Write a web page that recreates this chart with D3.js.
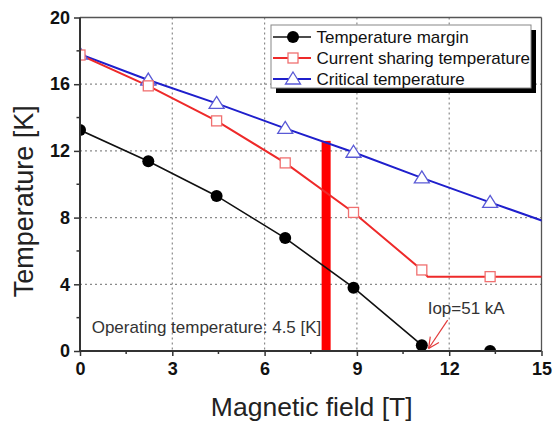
<!DOCTYPE html>
<html>
<head>
<meta charset="utf-8">
<script src="https://cdn.jsdelivr.net/npm/d3@7"></script>
<style>
  body { margin: 0; background: #fff; }
  svg { display: block; font-family: "Liberation Sans", Arial, sans-serif; }
</style>
</head>
<body>
<div class="graph"></div>
<script>
// data
var field    = [0, 2.22, 4.44, 6.67, 8.89, 11.11, 13.33, 15.56];
var margin_T = [13.25, 11.38, 9.3, 6.77, 3.8, 0.35, 0, 0];
var sharing  = [17.75, 15.9, 13.8, 11.28, 8.31, 4.86, 4.46, 4.46];
var critical = [17.8, 16.25, 14.85, 13.35, 11.92, 10.38, 8.91, 7.47];
var sharingKnee = [11.3, 4.46];   // where Tcs meets operating temperature
var opField = 8.0, opBarTop = 12.6;
var xTicks = [0, 3, 6, 9, 12, 15];
var yTicks = [0, 4, 8, 12, 16, 20];
var seriesNames = ["Temperature margin", "Current sharing temperature", "Critical temperature"];

var W = 554, H = 425;
var margin = { top: 17.5, right: 12.5, bottom: 74, left: 80 },
  width = W - margin.left - margin.right,
  height = H - margin.top - margin.bottom;

var x = d3.scaleLinear().domain([0, 15]).range([0, width]);
var y = d3.scaleLinear().domain([0, 20]).range([height, 0]);

var svg = d3.select(".graph").append("svg")
  .attr("width", W).attr("height", H)
  .append("g")
  .attr("transform", "translate(" + margin.left + "," + margin.top + ")");

svg.append("defs").append("clipPath").attr("id", "clip")
  .append("rect").attr("width", width).attr("height", height);

// dotted grid
svg.append("g").selectAll("line").data(xTicks.slice(1, -1)).enter().append("line")
  .attr("x1", x).attr("x2", x).attr("y1", 0).attr("y2", height)
  .attr("stroke", "#8a8a8a").attr("stroke-width", 1.2).attr("stroke-dasharray", "2,3");
svg.append("g").selectAll("line").data(yTicks.slice(1, -1)).enter().append("line")
  .attr("y1", y).attr("y2", y).attr("x1", 0).attr("x2", width)
  .attr("stroke", "#8a8a8a").attr("stroke-width", 1.2).attr("stroke-dasharray", "2,3");

// frame top / right
svg.append("line").attr("x1", 0).attr("x2", width).attr("y1", 0).attr("y2", 0)
  .attr("stroke", "#555").attr("stroke-width", 1.3);
svg.append("line").attr("x1", width).attr("x2", width).attr("y1", 0).attr("y2", height)
  .attr("stroke", "#555").attr("stroke-width", 1.3);

var plot = svg.append("g").attr("clip-path", "url(#clip)");

// operating field bar
plot.append("rect")
  .attr("x", x(opField) - 4.5).attr("width", 9)
  .attr("y", y(opBarTop)).attr("height", y(0) - y(opBarTop))
  .attr("fill", "#ff0000");

var line = d3.line().x(function(d) { return x(d[0]); }).y(function(d) { return y(d[1]); });

var critPts = field.map(function(f, i) { return [f, critical[i]]; });
var sharePts = field.map(function(f, i) { return [f, sharing[i]]; });
var sharePath = sharePts.slice(0, 6).concat([sharingKnee]).concat(sharePts.slice(6));
var marginPts = field.map(function(f, i) { return [f, margin_T[i]]; });

plot.append("path").datum(critPts).attr("d", line)
  .attr("fill", "none").attr("stroke", "#1f1fcc").attr("stroke-width", 2);
plot.append("path").datum(sharePath).attr("d", line)
  .attr("fill", "none").attr("stroke", "#ee2a2a").attr("stroke-width", 2);
plot.append("path").datum(marginPts.slice(0, 6)).attr("d", line)
  .attr("fill", "none").attr("stroke", "#111").attr("stroke-width", 1.6);

function triangle(g, cx, cy) {
  g.append("path").attr("d", "M0,-7L7.5,5L-7.5,5Z")
    .attr("transform", "translate(" + cx + "," + cy + ")")
    .attr("fill", "#fff").attr("stroke", "#5a5ad6").attr("stroke-width", 1.3);
}
function square(g, cx, cy) {
  g.append("rect").attr("x", cx - 5).attr("y", cy - 5).attr("width", 10).attr("height", 10)
    .attr("fill", "#fff").attr("stroke", "#f07070").attr("stroke-width", 1.3);
}
function circle(g, cx, cy) {
  g.append("circle").attr("cx", cx).attr("cy", cy).attr("r", 6).attr("fill", "#000");
}

critPts.forEach(function(d) { triangle(plot, x(d[0]), y(d[1])); });
sharePts.forEach(function(d) { square(plot, x(d[0]), y(d[1])); });
marginPts.slice(0, 7).forEach(function(d) { circle(plot, x(d[0]), y(d[1])); });

// axes
var xAxis = d3.axisBottom(x).tickValues(xTicks).tickSize(5).tickPadding(6).tickFormat(d3.format("d"));
var yAxis = d3.axisLeft(y).tickValues(yTicks).tickSize(6).tickPadding(4).tickFormat(d3.format("d"));

var gx = svg.append("g").attr("transform", "translate(0," + height + ")").call(xAxis);
var gy = svg.append("g").call(yAxis);
[gx, gy].forEach(function(g) {
  g.select(".domain").attr("stroke", "#333").attr("stroke-width", 2);
  g.selectAll(".tick line").attr("stroke", "#333").attr("stroke-width", 1.5);
  g.selectAll("text").attr("font-family", "Liberation Sans, Arial, sans-serif")
    .attr("font-size", 18).attr("font-weight", "bold").attr("fill", "#111");
});
gy.select(".domain").attr("d", "M0," + height + "V0");
gx.select(".domain").attr("d", "M0,0H" + width);

// minor ticks
svg.append("g").selectAll("line").data(d3.range(1.5, 15, 3)).enter().append("line")
  .attr("x1", x).attr("x2", x).attr("y1", height).attr("y2", height + 3)
  .attr("stroke", "#333").attr("stroke-width", 1.5);
svg.append("g").selectAll("line").data(d3.range(2, 20, 4)).enter().append("line")
  .attr("y1", y).attr("y2", y).attr("x1", 0).attr("x2", -3.5)
  .attr("stroke", "#333").attr("stroke-width", 1.5);

// axis titles
svg.append("text").attr("x", width / 2 + 1).attr("y", height + 65)
  .attr("text-anchor", "middle").attr("font-size", 26.5).attr("fill", "#222")
  .text("Magnetic field [T]");
svg.append("text").attr("transform", "translate(" + (33 - margin.left) + "," + (height / 2 + 17) + ") rotate(-90)")
  .attr("text-anchor", "middle").attr("font-size", 27).attr("fill", "#222")
  .text("Temperature [K]");

// annotations
svg.append("text").attr("x", x(0.38)).attr("y", y(1.1))
  .attr("font-size", 17).attr("fill", "#333")
  .text("Operating temperature: 4.5 [K]");
svg.append("text").attr("x", x(11.3)).attr("y", y(2.2))
  .attr("font-size", 17).attr("fill", "#333")
  .text("Iop=51 kA");

var a0 = [x(11.95), y(1.85)], a1 = [x(11.33), y(0.15)];
svg.append("line").attr("x1", a0[0]).attr("y1", a0[1]).attr("x2", a1[0]).attr("y2", a1[1])
  .attr("stroke", "#e23a3a").attr("stroke-width", 1.2);
var ang = Math.atan2(a1[1] - a0[1], a1[0] - a0[0]);
[-0.45, 0.45].forEach(function(da) {
  svg.append("line").attr("x1", a1[0]).attr("y1", a1[1])
    .attr("x2", a1[0] - 12 * Math.cos(ang + da)).attr("y2", a1[1] - 12 * Math.sin(ang + da))
    .attr("stroke", "#e23a3a").attr("stroke-width", 1.2);
});

// legend
var lg = svg.append("g").attr("transform", "translate(" + (271 - margin.left) + "," + (25 - margin.top) + ")");
lg.append("rect").attr("x", 5).attr("y", 5).attr("width", 260).attr("height", 63).attr("fill", "#000");
lg.append("rect").attr("x", 0).attr("y", 0).attr("width", 260).attr("height", 63)
  .attr("fill", "#fff").attr("stroke", "#888").attr("stroke-width", 1);
var colors = ["#111", "#ee2a2a", "#1f1fcc"];
seriesNames.forEach(function(name, i) {
  var cy = 12 + i * 21;
  lg.append("line").attr("x1", 2).attr("x2", 40).attr("y1", cy).attr("y2", cy)
    .attr("stroke", colors[i]).attr("stroke-width", i === 0 ? 1.6 : 2);
  if (i === 0) circle(lg, 22, cy);
  if (i === 1) square(lg, 22, cy);
  if (i === 2) triangle(lg, 22, cy);
  lg.append("text").attr("x", 45.5).attr("y", cy + 6).attr("font-size", 17).attr("fill", "#111").text(name);
});
</script>
</body>
</html>
